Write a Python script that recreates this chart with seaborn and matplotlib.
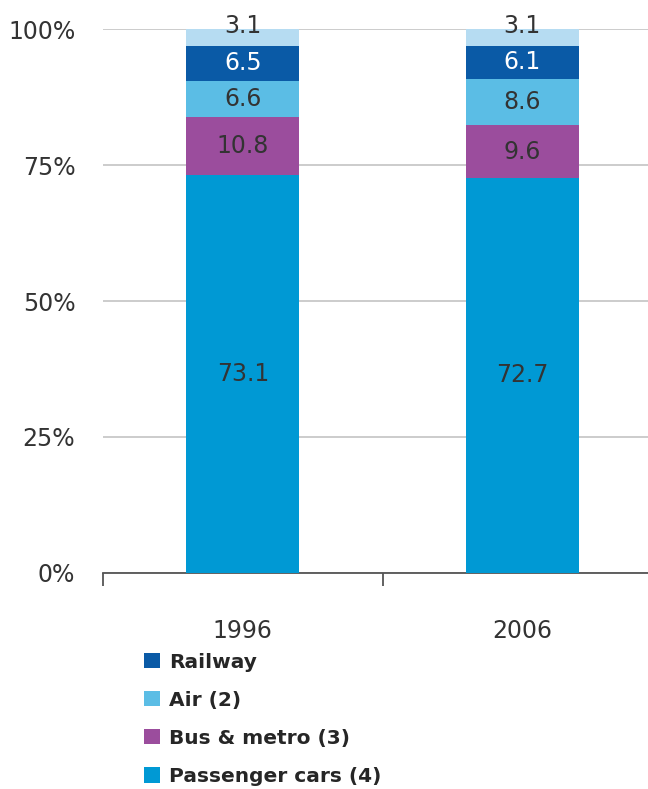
import matplotlib
matplotlib.use('Agg')

import seaborn as sns
import numpy as np
import pandas as pd
import matplotlib.pyplot as plt
from matplotlib.patches import Patch

years = ['1996', '2006']
cars = [73.1, 72.7]
bus_metro = [10.8, 9.6]
air = [6.6, 8.6]
railway = [6.5, 6.1]
other = [3.1, 3.1]

segments = ['Passenger cars (4)', 'Bus & metro (3)', 'Air (2)', 'Railway', '']
seg_values = [cars, bus_metro, air, railway, other]
seg_colors = ['#0099d4', '#9b4d9d', '#5bbde5', '#0a5aa6', '#b6dcf2']
text_colors = ['#333333', '#333333', '#333333', '#ffffff', '#333333']

FONT = ['Liberation Sans Narrow', 'DejaVu Sans']

sns.set_theme(style='white')
plt.rcParams['font.family'] = FONT

fig = plt.figure(figsize=(6.48, 7.89), dpi=100)
ax = fig.add_axes([0.159, 0.274, 0.841, 0.689])

vals = np.array(seg_values)
cum = np.cumsum(vals, axis=0)

# draw cumulative totals from the top down so each layer covers the one above
for i in range(len(segments) - 1, -1, -1):
    df = pd.DataFrame({'year': years, 'value': cum[i]})
    sns.barplot(data=df, x='year', y='value', color=seg_colors[i], width=0.405,
                saturation=1, ax=ax, zorder=3, clip_on=False,
                linewidth=0, edgecolor='none')

for j in range(len(years)):
    for i in range(len(segments)):
        lo = cum[i][j] - vals[i][j]
        hi = cum[i][j]
        y = (lo + hi) / 2 if i < len(segments) - 1 else 100.6
        ax.text(j, y, '{:.1f}'.format(vals[i][j]), ha='center', va='center',
                fontsize=17, color=text_colors[i], zorder=5)

ax.set_ylim(0, 100)
ax.set_xlim(-0.5, 1.45)
ax.set_yticks([0, 25, 50, 75, 100])
ax.set_yticklabels(['0%', '25%', '50%', '75%', '100%'])
ax.yaxis.grid(True, color='#c8c8c8', linewidth=1.3, zorder=0)
ax.set_axisbelow(True)

for s in ['top', 'right', 'left']:
    ax.spines[s].set_visible(False)
ax.spines['bottom'].set_color('#555555')
ax.spines['bottom'].set_linewidth(1.3)

ax.tick_params(axis='y', length=0, pad=20, labelsize=17, labelcolor='#333333')
ax.tick_params(axis='x', which='major', length=0, pad=33, labelsize=17, labelcolor='#333333')
ax.set_xticks([-0.5, 0.5], minor=True)
ax.tick_params(axis='x', which='minor', bottom=True, length=9, width=1.3,
               color='#555555', direction='out')
ax.set_xlabel('')
ax.set_ylabel('')

handles = [Patch(facecolor=seg_colors[i], edgecolor='none', label=segments[i]) for i in [3, 2, 1, 0]]
fig.legend(handles=handles, loc='upper left', bbox_to_anchor=(0.222, 0.173), frameon=False,
           borderpad=0, borderaxespad=0, handlelength=0.8, handleheight=0.8,
           handletextpad=0.45, labelspacing=0.95,
           prop={'family': FONT, 'weight': 'bold', 'size': 14.5})

plt.savefig('out.png', dpi=100)
plt.close('all')
